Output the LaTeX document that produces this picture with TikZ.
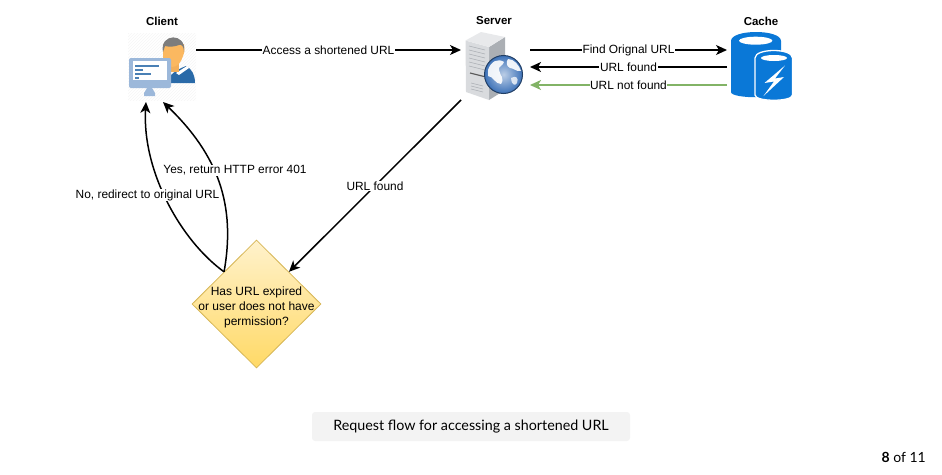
\documentclass[tikz,border=0pt]{standalone}
\usepackage{fontspec}
\setmainfont{Liberation Sans}
\newfontfamily\captionfont{Lato}
\usepackage{tikz}
\usetikzlibrary{shapes.geometric, arrows.meta, positioning, patterns}

\definecolor{diamondtop}{HTML}{FFF2CC}
\definecolor{diamondbot}{HTML}{FFD966}
\definecolor{diamondline}{HTML}{D6B656}
\definecolor{notfound}{HTML}{82B366}
\definecolor{capfill}{HTML}{F3F3F3}
\definecolor{monitorblue}{HTML}{9CB8DA}
\definecolor{shirtblue}{HTML}{2A6AA8}
\definecolor{skin}{HTML}{FBB860}
\definecolor{hair}{HTML}{7D7D7D}
\definecolor{cacheblue}{HTML}{0A78D7}
\definecolor{towerlight}{HTML}{D9DBDE}
\definecolor{towerdark}{HTML}{ABAFB4}
\definecolor{globeblue}{HTML}{3D72B8}

\tikzset{
	flow/.style={-{Stealth[length=11pt,width=10pt,inset=3pt]}, line width=1.5pt, black},
	flowlabel/.style={fill=white, inner sep=0.6pt, font=\fontsize{11.9}{13}\selectfont, text=black},
	headline/.style={font=\fontsize{11.5}{13}\selectfont\bfseries},
	iconbox/.style={inner sep=0pt, outer sep=0pt},
	checkbox/.style={diamond, inner sep=0pt, minimum width=129pt, minimum height=128pt, draw=diamondline, line width=0.8pt, top color=diamondtop, bottom color=diamondbot},
}

\begin{document}
\begin{tikzpicture}[x=1pt, y=-1pt]
	\useasboundingbox (0,0) rectangle (942,474);

	% Client
	\node[headline] (clienttitle) at (162,21) {Client};
	\node[iconbox, minimum width=68pt, minimum height=69pt] (client) at (162,67.5) {};
	\begin{scope}
		\clip (128,33) rectangle (196,100);
		\fill[pattern=north east lines, pattern color=black!4] (128,33) rectangle (196,100);
	\end{scope}
	\fill[shirtblue] (166,83) .. controls (170,74) and (176,70) .. (186,66) .. controls (192,69) and (195,75) .. (195,83) -- cycle;
	\fill[white] (176,73) -- (187,66) -- (189,68) -- (179,75) -- cycle;
	\fill[skin!85!brown] (169,62) rectangle (179,72);
	\fill[skin] (163,44) -- (184,44) .. controls (185,50) and (184,54) .. (183,56) .. controls (181,63) and (177,67) .. (172,67) -- (163,62) -- cycle;
	\fill[hair] (163,52) .. controls (159,33) and (187,32) .. (184,52) .. controls (184,47) and (182,44) .. (179,45) .. controls (174,47) and (169,47) .. (165,46) -- cycle;
	\fill[monitorblue] (144,93) -- (147,88) -- (152,88) -- (155,93) -- (155,96) -- (144,96) -- cycle;
	\fill[monitorblue, rounded corners=2pt] (129,58) rectangle (171,88);
	\fill[white] (133,61) rectangle (167,80);
	\foreach \ypos/\xend in {66/159, 70/143, 74/151, 78/139} {
		\draw[shirtblue!85, line width=1.2pt] (135,\ypos) -- (\xend,\ypos);
	}

	% Server
	\node[headline] (servertitle) at (494,21) {Server};
	\node[iconbox, minimum width=69pt, minimum height=68pt] (server) at (495.5,66) {};
	\fill[towerdark] (489,47) -- (505,37) -- (505,90) -- (489,100) -- cycle;
	\fill[towerlight] (465.5,40.5) -- (489,47) -- (489,100) -- (466,92) -- cycle;
	\fill[towerlight!60!white] (465.5,40.5) -- (481,32) -- (505,37) -- (489,47) -- cycle;
	\foreach \yoff in {0,4,...,20} {
		\draw[towerdark, line width=0.6pt] (469,46+\yoff) -- (485,50+\yoff);
	}
	\draw[black!65, line width=1.2pt] (470,73) -- (484,76.5);
	\foreach \yoff in {0,3,6} {
		\draw[towerdark, line width=0.6pt] (471,83+\yoff) -- (483,86+\yoff);
	}
	\shade[inner color=globeblue!35!white, outer color=globeblue] (503.5,74.5) circle (19);
	\draw[globeblue!55!black, line width=1pt] (503.5,74.5) circle (19);
	\fill[white, opacity=0.9] (488,70) .. controls (491,61) and (498,58) .. (504,62) .. controls (503,66) and (498,66) .. (499,70) .. controls (500,76) and (505,78) .. (501,84) .. controls (495,84) and (493,76) .. (488,76) -- cycle;
	\fill[white, opacity=0.9] (508,59) .. controls (514,59) and (519,65) .. (521,71) .. controls (516,72) and (514,68) .. (510,68) .. controls (506,66) and (506,62) .. (508,59) -- cycle;
	\fill[white, opacity=0.75] (511,78) .. controls (516,75) and (519,78) .. (517,83) .. controls (515,87) and (511,84) .. (511,78) -- cycle;

	% Cache
	\node[headline] (cachetitle) at (761,21) {Cache};
	\node[iconbox, minimum width=65pt, minimum height=68pt] (cache) at (759.5,66) {};
	\fill[cacheblue] (731,41) .. controls (731,29) and (781,29) .. (781,41) -- (781,92) .. controls (781,99) and (731,99) .. (731,92) -- cycle;
	\fill[white] (755.7,40.7) ellipse (16.7 and 4);
	\fill[cacheblue, draw=white, line width=1.3pt] (755,58) .. controls (755,48) and (792.5,48) .. (792.5,58) -- (792.5,95) .. controls (792.5,102) and (755,102) .. (755,95) -- cycle;
	\fill[white] (774,58) ellipse (13 and 3);
	\fill[white] (785,65.5) -- (764.5,83) -- (774,81.5) -- (763.5,96) -- (784,77) -- (775,78.5) -- cycle;

	% Check
	\node[checkbox] (expired) at (256.5,304) {};
	\node[align=center, font=\fontsize{12}{15}\selectfont] (expiredtext) at ([yshift=-3pt]expired.center) {Has URL expired\\or user does not have\\permission?};

	% Connectors
	\draw[flow] ([yshift=17.5pt]client.east) -- ([yshift=16pt]server.west) node[flowlabel, midway] (lbaccess) {Access a shortened URL};
	\draw[flow] ([yshift=16pt]server.east) -- ([yshift=16pt]cache.west) node[flowlabel, midway] (lbfind) {Find Orignal URL};
	\draw[flow] ([yshift=-1pt]cache.west) -- ([yshift=-1pt]server.east) node[flowlabel, midway] (lbfound) {URL found};
	\draw[flow, notfound] ([yshift=-19pt]cache.west) -- ([yshift=-19pt]server.east) node[flowlabel, midway] (lbnotfound) {URL not found};
	\draw[flow] (server.south west) -- (expired.north east) node[flowlabel, midway] (lbdiag) {URL found};
	\draw[flow] (expired.north west) .. controls (180,240) and (142,170) .. ([xshift=-16pt]client.south);
	\draw[flow] (expired.north west) .. controls (236,205) and (218,155) .. ([xshift=1pt]client.south);
	\node[flowlabel] (lbno) at (147.5,195) {No, redirect to original URL};
	\node[flowlabel] (lbyes) at (235,170.5) {Yes, return HTTP error 401};

	% Caption
	\node[fill=capfill, rounded corners=3pt, minimum width=318pt, minimum height=29pt, inner sep=0pt, font=\captionfont\fontsize{14.3}{17}\selectfont] (caption) at (471,426.5) {Request flow for accessing a shortened URL};
	\node[anchor=east, inner sep=0pt, font=\captionfont\fontsize{14}{17}\selectfont] (pageno) at (926,457) {\textbf{8} of 11};
\end{tikzpicture}
\end{document}
